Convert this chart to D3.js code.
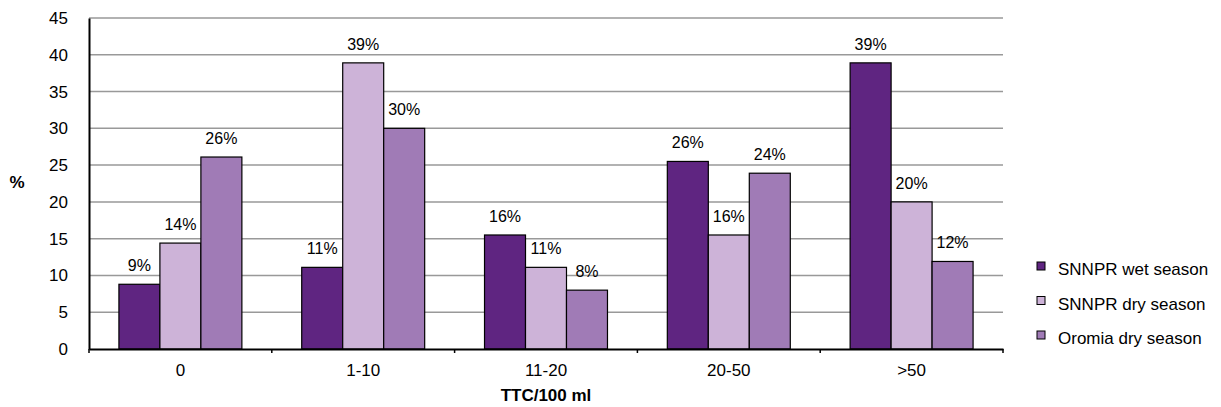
<!DOCTYPE html>
<html>
<head>
<meta charset="utf-8">
<title>TTC/100 ml</title>
<script src="https://cdn.jsdelivr.net/npm/d3@7/dist/d3.min.js"></script>
<style>
  body { margin: 0; background: #fff; }
  text { font-family: "Liberation Sans", Arial, sans-serif; fill: #000; }
  .tick text { font-size: 17px; }
  .lbl { font-size: 16px; text-anchor: middle; }
  .leg { font-size: 17px; }
  .title { font-size: 17px; font-weight: bold; }
</style>
</head>
<body>
<script>
var categories = ['0', '1-10', '11-20', '20-50', '>50'];
var seriesNames = ['SNNPR wet season', 'SNNPR dry season', 'Oromia dry season'];
var wetSNNPR = [8.8, 11.1, 15.5, 25.5, 38.9];
var drySNNPR = [14.4, 38.9, 11.1, 15.5, 20.0];
var dryOromia = [26.1, 30.0, 8.0, 23.9, 11.9];
var labelsWet = ['9%', '11%', '16%', '26%', '39%'];
var labelsDry = ['14%', '39%', '11%', '16%', '20%'];
var labelsOro = ['26%', '30%', '8%', '24%', '12%'];
var yTicks = [0, 5, 10, 15, 20, 25, 30, 35, 40, 45];
var colors = ['#5f2581', '#cdb3d8', '#a07bb6'];

var width = 1221, height = 407;
var margin = {left: 89, right: 218, top: 18, bottom: 58};

var svg = d3.select('body').append('svg').attr('width', width).attr('height', height);

var x = d3.scaleBand().domain(categories)
  .range([margin.left, width - margin.right]).paddingInner(0).paddingOuter(0);
var xs = d3.scaleBand().domain(d3.range(3)).range([0, x.bandwidth()])
  .paddingOuter(0.73).paddingInner(0);
var y = d3.scaleLinear().domain([0, 45]).range([height - margin.bottom, margin.top]);

// grid
svg.append('g').selectAll('line').data(yTicks.slice(1)).enter().append('line')
  .attr('x1', margin.left).attr('x2', width - margin.right)
  .attr('y1', d => y(d)).attr('y2', d => y(d))
  .attr('stroke', '#999').attr('stroke-width', 1.5);

var series = [wetSNNPR, drySNNPR, dryOromia];
var labels = [labelsWet, labelsDry, labelsOro];
var data = [];
categories.forEach(function (c, i) {
  series.forEach(function (s, j) {
    data.push({cat: c, s: j, v: s[i], lbl: labels[j][i]});
  });
});

svg.append('g').selectAll('rect').data(data).enter().append('rect')
  .attr('x', d => x(d.cat) + xs(d.s))
  .attr('width', xs.bandwidth())
  .attr('y', d => y(d.v))
  .attr('height', d => y(0) - y(d.v))
  .attr('fill', d => colors[d.s])
  .attr('stroke', '#000').attr('stroke-width', 1.2);

svg.append('g').selectAll('text').data(data).enter().append('text')
  .attr('class', 'lbl')
  .attr('x', d => x(d.cat) + xs(d.s) + xs.bandwidth() / 2)
  .attr('y', d => y(d.v) - 13)
  .text(d => d.lbl);

// y axis
var yAxis = svg.append('g').attr('transform', 'translate(' + margin.left + ',0)')
  .call(d3.axisLeft(y).tickValues(yTicks).tickSize(0).tickPadding(21));
yAxis.select('.domain').attr('stroke', '#000').attr('stroke-width', 2);

// x axis
var xAxis = svg.append('g').attr('transform', 'translate(0,' + y(0) + ')')
  .call(d3.axisBottom(x).tickSize(0).tickPadding(15));
xAxis.select('.domain').attr('stroke', '#000').attr('stroke-width', 2);
xAxis.selectAll('.bnd').data(d3.range(categories.length + 1)).enter().append('line')
  .attr('x1', d => margin.left + d * x.step()).attr('x2', d => margin.left + d * x.step())
  .attr('y1', 0).attr('y2', 4).attr('stroke', '#000').attr('stroke-width', 1.5);

svg.append('text').attr('class', 'title').attr('x', 17).attr('y', 188)
  .attr('text-anchor', 'middle').text('%');
svg.append('text').attr('class', 'title').attr('x', (margin.left + width - margin.right) / 2)
  .attr('y', 401).attr('text-anchor', 'middle').text('TTC/100 ml');

// legend
var leg = svg.append('g').selectAll('g').data(seriesNames).enter().append('g')
  .attr('transform', (d, i) => 'translate(1037,' + (266 + i * 34.5) + ')');
leg.append('rect').attr('x', 0).attr('y', -4).attr('width', 8).attr('height', 8)
  .attr('fill', (d, i) => colors[i]).attr('stroke', '#000').attr('stroke-width', 1);
leg.append('text').attr('class', 'leg').attr('x', 21).attr('y', 9).text(d => d);
</script>
</body>
</html>
